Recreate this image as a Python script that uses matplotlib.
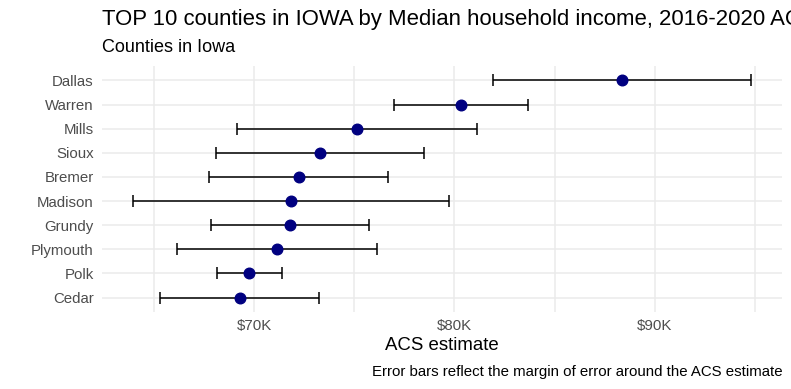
import numpy as np
import matplotlib.pyplot as plt
from matplotlib.ticker import FuncFormatter, MultipleLocator

plt.rcParams['font.family'] = ['Liberation Sans', 'DejaVu Sans']

counties = ["Dallas", "Warren", "Mills", "Sioux", "Bremer",
            "Madison", "Grundy", "Plymouth", "Polk", "Cedar"]
estimate = [88380, 80320, 75130, 73270, 72220,
            71830, 71780, 71150, 69750, 69270]
moe = [6440, 3360, 6010, 5200, 4480,
       7890, 3940, 5000, 1630, 3970]

W, H = 791, 389
fig = plt.figure(figsize=(W / 100, H / 100), dpi=100)
ax = fig.add_axes([102 / W, 1 - 312 / H, (782 - 102) / W, (312 - 66) / H])

y = np.arange(len(counties))[::-1]
ax.errorbar(estimate, y, xerr=moe, fmt="none", ecolor="black",
            elinewidth=1.1, capsize=4.5, capthick=1.1, zorder=3)
ax.scatter(estimate, y, s=58, color="navy", zorder=4)

lo = min(e - m for e, m in zip(estimate, moe))
hi = max(e + m for e, m in zip(estimate, moe))
pad = (hi - lo) * 0.05
ax.set_xlim(lo - pad, hi + pad)
ax.set_ylim(-0.6, len(counties) - 0.4)

ax.set_yticks(y)
ax.set_yticklabels(counties)
ax.xaxis.set_major_locator(MultipleLocator(10000))
ax.xaxis.set_minor_locator(MultipleLocator(5000))
ax.xaxis.set_major_formatter(FuncFormatter(lambda v, p: f"${v / 1000:.0f}K"))

ax.grid(True, which="major", color="#EBEBEB", lw=1.1)
ax.grid(True, which="minor", axis="x", color="#EBEBEB", lw=1.1)
ax.set_axisbelow(True)
for s in ax.spines.values():
    s.set_visible(False)
ax.tick_params(which="both", length=0)
ax.tick_params(axis="y", labelsize=10.8, labelcolor="#4D4D4D", pad=6)
ax.tick_params(axis="x", labelsize=10.8, labelcolor="#4D4D4D", pad=5)

ax.set_xlabel("ACS estimate", fontsize=13.4, labelpad=3)

fig.text(102 / W, 1 - 20 / H, "TOP 10 counties in IOWA by Median household income, 2016-2020 ACS",
         fontsize=15.9, va="center", ha="left")
fig.text(102 / W, 1 - 47 / H, "Counties in Iowa", fontsize=13, va="center", ha="left")
fig.text(783 / W, 1 - 372 / H, "Error bars reflect the margin of error around the ACS estimate",
         fontsize=10.8, va="center", ha="right")

fig.savefig("out.png", dpi=100)
